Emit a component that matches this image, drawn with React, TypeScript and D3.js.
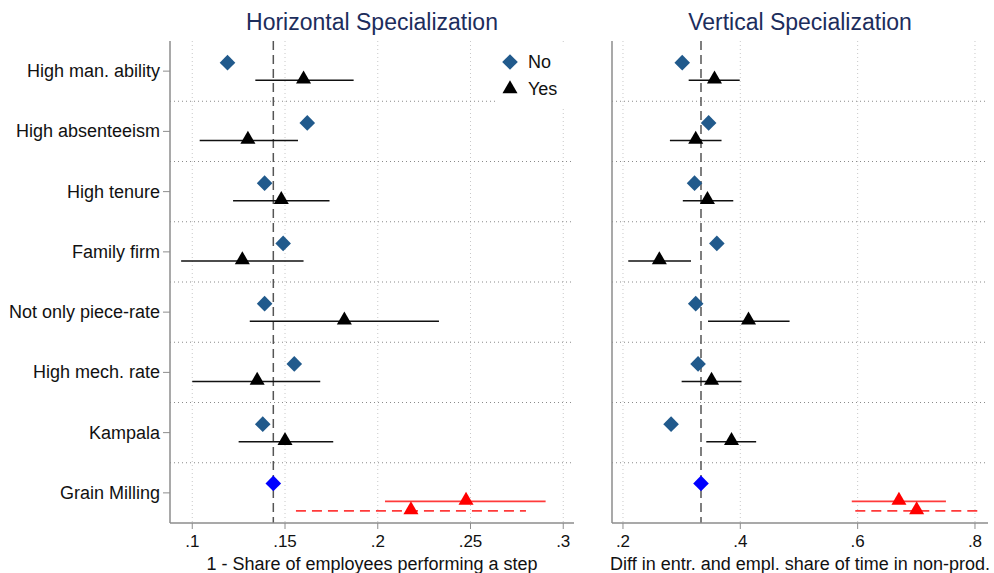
import React, { useEffect, useRef } from 'react'
import * as d3 from 'd3'

// row labels, top to bottom
const rows = [
  'High man. ability',
  'High absenteeism',
  'High tenure',
  'Family firm',
  'Not only piece-rate',
  'High mech. rate',
  'Kampala',
  'Grain Milling'
]

// horizontal specialization: "No" point, "Yes" point with CI
const hNo = [0.119, 0.162, 0.139, 0.149, 0.139, 0.155, 0.138, 0.1437]
const hYes = [0.160, 0.130, 0.148, 0.127, 0.182, 0.135, 0.150]
const hYesLo = [0.134, 0.104, 0.122, 0.094, 0.131, 0.100, 0.125]
const hYesHi = [0.187, 0.157, 0.174, 0.160, 0.233, 0.169, 0.176]
// grain milling red estimates: [solid, dashed]
const hRed = [0.2476, 0.2179]
const hRedLo = [0.2039, 0.1559]
const hRedHi = [0.2905, 0.2799]

// vertical specialization
const vNo = [0.301, 0.346, 0.322, 0.360, 0.324, 0.328, 0.282, 0.333]
const vYes = [0.356, 0.324, 0.344, 0.262, 0.414, 0.351, 0.385]
const vYesLo = [0.312, 0.280, 0.302, 0.209, 0.345, 0.300, 0.342]
const vYesHi = [0.399, 0.368, 0.388, 0.316, 0.484, 0.402, 0.427]
const vRed = [0.6704, 0.7006]
const vRedLo = [0.590, 0.596]
const vRedHi = [0.7505, 0.8046]

const hTicks = [0.1, 0.15, 0.2, 0.25, 0.3]
const vTicks = [0.2, 0.4, 0.6, 0.8]

const fmt = (v) => String(+v.toFixed(2)).replace(/^0\./, '.')

const FONT = '"Liberation Sans", Arial, sans-serif'
const NAVY = '#215a8c'
const TITLE = '#1c2d5c'

function drawPanel(svg, opt) {
  const { x0, x1, domain, ticks, title, xlabel, no, yes, lo, hi, red, redLo, redHi, showY, legend } = opt
  const top = 41
  const bottom = 523
  const x = d3.scaleLinear().domain(domain).range([x0, x1])
  const y = d3.scaleBand().domain(rows).range([top, bottom])
  const g = svg.append('g')

  // vertical grid
  g.selectAll('.vg')
    .data(ticks)
    .enter()
    .append('line')
    .attr('x1', (d) => x(d))
    .attr('x2', (d) => x(d))
    .attr('y1', top)
    .attr('y2', bottom)
    .attr('stroke', '#c8c8c8')
    .attr('stroke-width', 1)
    .attr('stroke-dasharray', '1,3')

  // row separators
  g.selectAll('.sep')
    .data(rows.slice(1))
    .enter()
    .append('line')
    .attr('x1', x0)
    .attr('x2', x1)
    .attr('y1', (d) => y(d))
    .attr('y2', (d) => y(d))
    .attr('stroke', '#8a8a8a')
    .attr('stroke-width', 1)
    .attr('stroke-dasharray', '1,3')

  if (legend) {
    g.append('rect').attr('x', 497).attr('y', 44).attr('width', 75).attr('height', 64).attr('fill', '#fff')
  }

  // reference line at grain milling "No"
  const ref = no[no.length - 1]
  g.append('line')
    .attr('x1', x(ref))
    .attr('x2', x(ref))
    .attr('y1', top)
    .attr('y2', bottom)
    .attr('stroke', '#555')
    .attr('stroke-width', 1.5)
    .attr('stroke-dasharray', '9,5')

  const bw = y.bandwidth()
  const diamond = d3.symbol().type(d3.symbolDiamond2).size(155)
  const tri = d3.symbol().type(d3.symbolTriangle).size(98)

  // CI lines for yes
  yes.forEach((v, i) => {
    const cy = y(rows[i]) + bw / 2 + 9
    g.append('line')
      .attr('x1', x(lo[i]))
      .attr('x2', x(hi[i]))
      .attr('y1', cy)
      .attr('y2', cy)
      .attr('stroke', '#111')
      .attr('stroke-width', 1.5)
  })

  // red grain milling estimates
  const gm = y(rows[rows.length - 1]) + bw / 2
  red.forEach((v, i) => {
    const cy = gm + (i === 0 ? 8.5 : 18)
    g.append('line')
      .attr('x1', x(redLo[i]))
      .attr('x2', x(redHi[i]))
      .attr('y1', cy)
      .attr('y2', cy)
      .attr('stroke', '#ff3a3a')
      .attr('stroke-width', 1.8)
      .attr('stroke-dasharray', i === 0 ? null : '10,6')
    g.append('path')
      .attr('d', tri)
      .attr('transform', `translate(${x(v)},${cy - 1})`)
      .attr('fill', '#ff0000')
  })

  // no diamonds
  no.forEach((v, i) => {
    const last = i === no.length - 1
    g.append('path')
      .attr('d', diamond)
      .attr('transform', `translate(${x(v)},${y(rows[i]) + bw / 2 - (last ? 9.5 : 8.5)})`)
      .attr('fill', last ? '#0000ff' : NAVY)
  })

  // yes triangles
  yes.forEach((v, i) => {
    g.append('path')
      .attr('d', tri)
      .attr('transform', `translate(${x(v)},${y(rows[i]) + bw / 2 + 8})`)
      .attr('fill', '#000')
  })

  // axes
  const axisColor = '#8c8c8c'
  g.append('line').attr('x1', x0).attr('x2', x0).attr('y1', top).attr('y2', bottom).attr('stroke', axisColor).attr('stroke-width', 1.5)
  g.append('line').attr('x1', x0).attr('x2', x1).attr('y1', bottom).attr('y2', bottom).attr('stroke', axisColor).attr('stroke-width', 1.5)

  g.selectAll('.xt')
    .data(ticks)
    .enter()
    .append('line')
    .attr('x1', (d) => x(d))
    .attr('x2', (d) => x(d))
    .attr('y1', bottom)
    .attr('y2', bottom + 6)
    .attr('stroke', axisColor)
  g.selectAll('.xl')
    .data(ticks)
    .enter()
    .append('text')
    .attr('x', (d) => x(d))
    .attr('y', bottom + 24)
    .attr('text-anchor', 'middle')
    .style('font-family', FONT)
    .style('font-size', '17px')
    .attr('fill', '#111')
    .text((d) => fmt(d))

  g.append('text')
    .attr('x', (x0 + x1) / 2)
    .attr('y', 570)
    .attr('text-anchor', 'middle')
    .style('font-family', FONT)
    .style('font-size', '18px')
    .attr('fill', '#111')
    .text(xlabel)

  if (showY) {
    g.selectAll('.yt')
      .data(rows)
      .enter()
      .append('line')
      .attr('x1', x0 - 7)
      .attr('x2', x0)
      .attr('y1', (d) => y(d) + bw / 2)
      .attr('y2', (d) => y(d) + bw / 2)
      .attr('stroke', axisColor)
    g.selectAll('.yl')
      .data(rows)
      .enter()
      .append('text')
      .attr('x', x0 - 10)
      .attr('y', (d) => y(d) + bw / 2 + 6)
      .attr('text-anchor', 'end')
      .style('font-family', FONT)
      .style('font-size', '18px')
      .attr('fill', '#111')
      .text((d) => d)
  }

  g.append('text')
    .attr('x', (x0 + x1) / 2)
    .attr('y', 30)
    .attr('text-anchor', 'middle')
    .style('font-family', FONT)
    .style('font-size', '23px')
    .attr('fill', TITLE)
    .text(title)

  if (legend) {
    g.append('path').attr('d', diamond).attr('transform', 'translate(510,62)').attr('fill', NAVY)
    g.append('path').attr('d', tri).attr('transform', 'translate(510,89)').attr('fill', '#000')
    g.append('text').attr('x', 528).attr('y', 68).style('font-family', FONT).style('font-size', '18px').attr('fill', '#111').text('No')
    g.append('text').attr('x', 528).attr('y', 95).style('font-family', FONT).style('font-size', '18px').attr('fill', '#111').text('Yes')
  }
}

export default function App() {
  const ref = useRef(null)
  useEffect(() => {
    const svg = d3.select(ref.current)
    svg.selectAll('*').remove()
    drawPanel(svg, {
      x0: 170,
      x1: 574,
      domain: [0.088, 0.3058],
      ticks: hTicks,
      title: 'Horizontal Specialization',
      xlabel: '1 - Share of employees performing a step',
      no: hNo,
      yes: hYes,
      lo: hYesLo,
      hi: hYesHi,
      red: hRed,
      redLo: hRedLo,
      redHi: hRedHi,
      showY: true,
      legend: true
    })
    drawPanel(svg, {
      x0: 612,
      x1: 988,
      domain: [0.1813, 0.8222],
      ticks: vTicks,
      title: 'Vertical Specialization',
      xlabel: 'Diff in entr. and empl. share of time in non-prod.',
      no: vNo,
      yes: vYes,
      lo: vYesLo,
      hi: vYesHi,
      red: vRed,
      redLo: vRedLo,
      redHi: vRedHi,
      showY: false,
      legend: false
    })
  }, [])
  return (
    <svg
      ref={ref}
      width={994}
      height={573}
      style={{ position: 'absolute', left: 0, top: 0, background: '#fff' }}
    />
  )
}
